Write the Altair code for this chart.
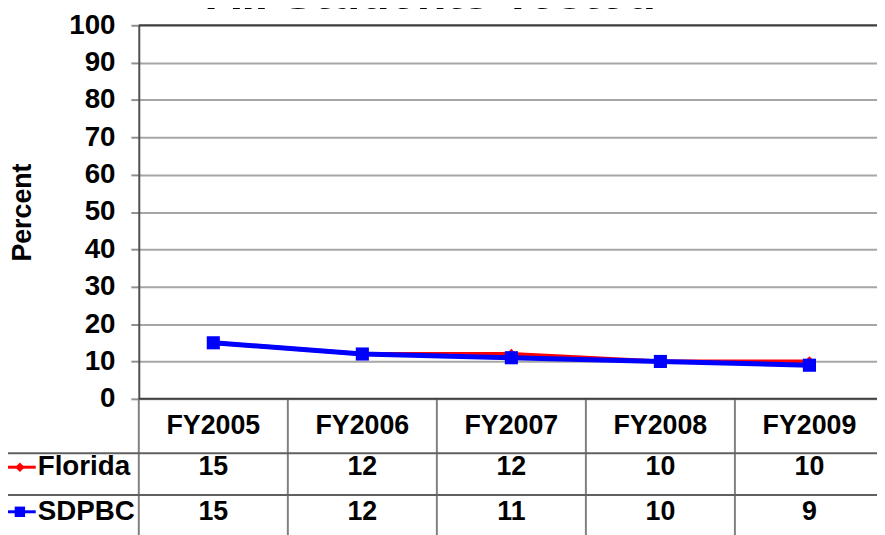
import altair as alt
import pandas as pd

years = ["FY2005", "FY2006", "FY2007", "FY2008", "FY2009"]
florida = [15, 12, 12, 10, 10]
sdpbc = [15, 12, 11, 10, 9]
series_names = ["Florida", "SDPBC"]
series_colors = ["#FF0000", "#0000FF"]
y_ticks = list(range(0, 101, 10))
title_text = "All Students Tested"

FONT = "Liberation Sans"
FS = 27
W, H = 752, 377

df = pd.DataFrame({
    "year": years * 2,
    "series": ["Florida"] * 5 + ["SDPBC"] * 5,
    "value": florida + sdpbc,
})
fl = df[df.series == "Florida"]
sd = df[df.series == "SDPBC"]
yrs = pd.DataFrame({"year": years})

xscale = alt.Scale(type="band", domain=years, paddingInner=0, paddingOuter=0, range=[0, W])
yscale = alt.Scale(domain=[0, 100], nice=False)

def X(bp=0.5):
    return alt.X("year:N", scale=xscale, axis=None, bandPosition=bp)

yaxis = alt.Axis(values=y_ticks, labelFont=FONT, labelFontWeight="bold", labelFontSize=28,
                 labelColor="black", labelOverlap=False, tickSize=8, tickColor="#909090", tickWidth=2,
                 domainColor="#505050", domainWidth=2, gridColor="#A6A6A6", gridWidth=2,
                 labelPadding=16, title="Percent", titleFont=FONT, titleFontSize=27,
                 titleFontWeight="bold", titleColor="black", titlePadding=33)

def Y(field):
    return alt.Y(field, scale=yscale, axis=yaxis)

grid = alt.Chart(yrs).mark_rule(opacity=0).encode(
    y=Y("v:Q")
).transform_calculate(v="0")

edge = alt.Chart(pd.DataFrame({"v": [0, 100]})).mark_rule(color="#404040", strokeWidth=2).encode(
    y=Y("v:Q"), x=alt.value(0), x2=alt.value(W)
)

line_fl = alt.Chart(fl).mark_line(color=series_colors[0], strokeWidth=4).encode(
    x=X(), y=Y("value:Q"))
pt_fl = alt.Chart(fl).mark_point(shape="diamond", filled=True, size=110, color=series_colors[0], opacity=1).encode(
    x=X(), y=Y("value:Q"))
line_sd = alt.Chart(sd).mark_line(color=series_colors[1], strokeWidth=5).encode(
    x=X(), y=Y("value:Q"))
pt_sd = alt.Chart(sd).mark_point(shape="square", filled=True, size=175, color=series_colors[1], opacity=1).encode(
    x=X(), y=Y("value:Q"))

# table
TABLE_TOP, ROW1, ROW2, BOTTOM = H, 432, 474, 540
hdr = alt.Chart(yrs).mark_text(font=FONT, fontWeight="bold", fontSize=FS, color="black", baseline="middle").encode(
    x=X(), y=alt.value(404), text="year:N")
val_fl = alt.Chart(fl).mark_text(font=FONT, fontWeight="bold", fontSize=FS, color="black", baseline="middle").encode(
    x=X(), y=alt.value(446), text="value:Q")
val_sd = alt.Chart(sd).mark_text(font=FONT, fontWeight="bold", fontSize=FS, color="black", baseline="middle").encode(
    x=X(), y=alt.value(491), text="value:Q")

vlines = alt.Chart(yrs).mark_rule(color="#808080", strokeWidth=2).encode(
    x=X(0), y=alt.value(TABLE_TOP), y2=alt.value(BOTTOM))
vleft = alt.Chart(yrs.head(1)).mark_rule(color="#808080", strokeWidth=2).encode(
    x=alt.value(-137), y=alt.value(ROW1), y2=alt.value(BOTTOM))
hlines = alt.Chart(pd.DataFrame({"r": [ROW1, ROW2]})).mark_rule(color="#606060", strokeWidth=2).encode(
    y=alt.Y("r:Q", scale=None), x=alt.value(-137), x2=alt.value(W))

leg = pd.DataFrame({"series": series_names, "ypos": [446, 491]})
leg_line = alt.Chart(leg).mark_rule(strokeWidth=3).encode(
    y=alt.Y("ypos:Q", scale=None), x=alt.value(-135), x2=alt.value(-104),
    color=alt.Color("series:N", scale=alt.Scale(domain=series_names, range=series_colors), legend=None))
leg_fl = alt.Chart(leg.head(1)).mark_point(shape="diamond", filled=True, size=90, opacity=1, color=series_colors[0]).encode(
    y=alt.Y("ypos:Q", scale=None), x=alt.value(-120))
leg_sd = alt.Chart(leg.tail(1)).mark_point(shape="square", filled=True, size=110, opacity=1, color=series_colors[1]).encode(
    y=alt.Y("ypos:Q", scale=None), x=alt.value(-120))
leg_txt = alt.Chart(leg).mark_text(font=FONT, fontWeight="bold", fontSize=28, color="black", align="left", baseline="middle").encode(
    y=alt.Y("ypos:Q", scale=None), x=alt.value(-102), text="series:N")

title = alt.Chart(yrs.head(1)).mark_text(font=FONT, fontWeight="bold", fontSize=49, color="black",
                                         align="center", baseline="alphabetic").encode(
    x=alt.value(295), y=alt.value(-16), text=alt.value(title_text))

chart = alt.layer(
    grid, vlines, vleft, hlines, edge, line_fl, pt_fl, line_sd, pt_sd,
    hdr, val_fl, val_sd, leg_line, leg_fl, leg_sd, leg_txt, title
).properties(
    width=W, height=H,
    autosize=alt.AutoSizeParams(type="none"),
    padding={"left": 132, "top": 15, "right": -7, "bottom": 135},
).configure_view(stroke=None).configure(background="white")

chart.save("out.html", embed_options={"renderer": "svg", "actions": False})
